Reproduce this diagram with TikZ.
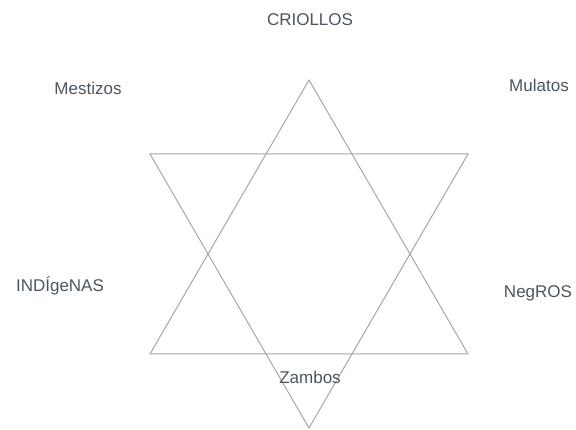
\documentclass[tikz,border=0pt]{standalone}
\usepackage{fontspec}
\setmainfont{Liberation Sans}
\usepackage{xcolor}
\usepackage{tikz}
\usetikzlibrary{positioning,calc}
\definecolor{ink}{HTML}{4A5560}
\definecolor{edge}{HTML}{A3A7AB}

\begin{document}
\begin{tikzpicture}[x=1pt,y=-1pt,
    grupo/.style={font=\fontsize{17}{20}\selectfont,text=ink,inner sep=0pt,anchor=base},
    lado/.style={edge,line width=1pt,line join=miter}]
  \useasboundingbox (0,0) rectangle (576,430);
  % the two triangles of the star
  \coordinate (arriba) at (309,80);
  \coordinate (abajo)  at (309,428);
  \coordinate (sup-izq) at (150,154);
  \coordinate (sup-der) at (468,154);
  \coordinate (inf-izq) at (150,354);
  \coordinate (inf-der) at (468,354);
  \draw[lado] (arriba) -- (inf-der) -- (inf-izq) -- cycle;
  \draw[lado] (abajo) -- (sup-der) -- (sup-izq) -- cycle;
  % the groups round it
  \node[grupo] (criollos)  at (310,26)  {CRIOLLOS};
  \node[grupo] (mestizos)  at (88,95)   {Mestizos};
  \node[grupo] (mulatos)   at (539,92)  {Mulatos};
  \node[grupo] (indigenas) at (60,292)  {INDÍgeNAS};
  \node[grupo] (negros)    at (538,298) {NegROS};
  \node[grupo] (zambos)    at (310,384) {Zambos};
\end{tikzpicture}
\end{document}
